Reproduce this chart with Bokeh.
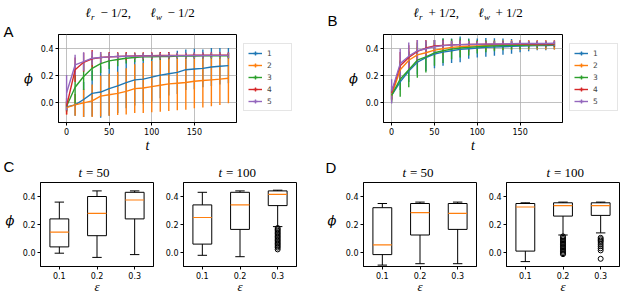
from bokeh.plotting import figure
from bokeh.models import (Range1d, FixedTicker, PrintfTickFormatter,
                          Legend, LegendItem)
from bokeh.layouts import row, column
from bokeh.embed import file_html
from bokeh.resources import INLINE
from bokeh.core.properties import value

# ---------------- data ----------------
t = [0, 10, 20, 30, 40, 50, 60, 70, 80, 90, 100, 110, 120, 130, 140, 150, 160, 170, 180, 190]
series_labels = ["1", "2", "3", "4", "5"]

# Panel A  (l_r - 1/2, l_w - 1/2): mean phi and error
a_mean_1 = [-0.035, -0.02, 0.02, 0.065, 0.075, 0.10, 0.12, 0.145, 0.165, 0.17, 0.185, 0.20, 0.21, 0.22, 0.24, 0.245, 0.25, 0.26, 0.265, 0.27]
a_mean_2 = [-0.04, -0.02, -0.005, 0.01, 0.045, 0.055, 0.065, 0.08, 0.10, 0.105, 0.115, 0.125, 0.135, 0.14, 0.145, 0.155, 0.16, 0.165, 0.17, 0.177]
a_mean_3 = [-0.03, 0.11, 0.19, 0.25, 0.285, 0.305, 0.315, 0.325, 0.33, 0.335, 0.335, 0.337, 0.338, 0.34, 0.34, 0.341, 0.342, 0.342, 0.343, 0.343]
a_mean_4 = [-0.03, 0.24, 0.295, 0.32, 0.33, 0.335, 0.338, 0.34, 0.342, 0.343, 0.344, 0.345, 0.345, 0.346, 0.346, 0.347, 0.347, 0.348, 0.348, 0.348]
a_mean_5 = [0.07, 0.275, 0.30, 0.325, 0.33, 0.335, 0.337, 0.339, 0.34, 0.341, 0.342, 0.342, 0.343, 0.344, 0.344, 0.345, 0.345, 0.346, 0.346, 0.346]
a_err_1 = [0.03, 0.08, 0.13, 0.17, 0.19, 0.20, 0.20, 0.19, 0.19, 0.18, 0.18, 0.17, 0.16, 0.16, 0.15, 0.15, 0.14, 0.14, 0.135, 0.13]
a_err_2 = [0.05, 0.08, 0.105, 0.12, 0.15, 0.155, 0.16, 0.17, 0.18, 0.185, 0.19, 0.195, 0.20, 0.20, 0.20, 0.20, 0.20, 0.195, 0.19, 0.185]
a_err_3 = [0.04, 0.12, 0.10, 0.09, 0.07, 0.06, 0.05, 0.04, 0.035, 0.03, 0.025, 0.025, 0.02, 0.02, 0.02, 0.02, 0.02, 0.02, 0.02, 0.02]
a_err_4 = [0.06, 0.09, 0.07, 0.065, 0.04, 0.035, 0.03, 0.03, 0.025, 0.025, 0.025, 0.025, 0.025, 0.02, 0.02, 0.02, 0.02, 0.02, 0.02, 0.02]
a_err_5 = [0.13, 0.075, 0.068, 0.05, 0.04, 0.03, 0.025, 0.02, 0.02, 0.02, 0.02, 0.02, 0.02, 0.02, 0.02, 0.02, 0.02, 0.02, 0.02, 0.02]

# Panel B  (l_r + 1/2, l_w + 1/2)
b_mean_1 = [0.05, 0.15, 0.23, 0.295, 0.33, 0.355, 0.37, 0.38, 0.39, 0.395, 0.40, 0.405, 0.408, 0.41, 0.412, 0.414, 0.416, 0.418, 0.419, 0.42]
b_mean_2 = [0.05, 0.24, 0.31, 0.35, 0.365, 0.385, 0.395, 0.405, 0.41, 0.413, 0.416, 0.418, 0.42, 0.421, 0.422, 0.423, 0.424, 0.424, 0.425, 0.425]
b_mean_3 = [0.05, 0.17, 0.24, 0.31, 0.335, 0.365, 0.38, 0.392, 0.40, 0.405, 0.41, 0.413, 0.416, 0.418, 0.42, 0.421, 0.422, 0.423, 0.424, 0.425]
b_mean_4 = [0.07, 0.27, 0.33, 0.375, 0.40, 0.415, 0.42, 0.423, 0.425, 0.426, 0.427, 0.428, 0.428, 0.429, 0.429, 0.43, 0.43, 0.43, 0.43, 0.43]
b_mean_5 = [0.08, 0.285, 0.34, 0.38, 0.395, 0.41, 0.418, 0.422, 0.425, 0.427, 0.428, 0.429, 0.43, 0.431, 0.432, 0.433, 0.433, 0.434, 0.434, 0.435]
b_err_1 = [0.03, 0.06, 0.08, 0.09, 0.10, 0.105, 0.10, 0.09, 0.095, 0.075, 0.07, 0.07, 0.065, 0.06, 0.055, 0.045, 0.04, 0.035, 0.035, 0.03]
b_err_2 = [0.04, 0.07, 0.07, 0.06, 0.05, 0.05, 0.045, 0.04, 0.04, 0.04, 0.035, 0.035, 0.035, 0.035, 0.035, 0.035, 0.035, 0.035, 0.035, 0.035]
b_err_3 = [0.05, 0.13, 0.13, 0.13, 0.115, 0.095, 0.09, 0.075, 0.07, 0.06, 0.05, 0.045, 0.04, 0.035, 0.03, 0.03, 0.025, 0.025, 0.02, 0.02]
b_err_4 = [0.05, 0.10, 0.09, 0.085, 0.06, 0.045, 0.04, 0.03, 0.03, 0.025, 0.025, 0.02, 0.02, 0.02, 0.02, 0.02, 0.02, 0.02, 0.02, 0.02]
b_err_5 = [0.09, 0.11, 0.10, 0.08, 0.06, 0.05, 0.04, 0.03, 0.03, 0.025, 0.02, 0.02, 0.02, 0.02, 0.02, 0.02, 0.02, 0.02, 0.02, 0.02]

# Box plots: epsilon categories
eps_labels = ["0.1", "0.2", "0.3"]

c50_lo = [-0.005, -0.035, -0.015]
c50_q1 = [0.04, 0.12, 0.24]
c50_med = [0.145, 0.28, 0.375]
c50_q3 = [0.24, 0.40, 0.43]
c50_hi = [0.36, 0.44, 0.44]
c50_out = [[], [], []]

c100_lo = [-0.02, -0.03, 0.185]
c100_q1 = [0.06, 0.165, 0.335]
c100_med = [0.25, 0.34, 0.415]
c100_q3 = [0.34, 0.43, 0.44]
c100_hi = [0.43, 0.44, 0.445]
c100_out = [[], [], [0.175, 0.165, 0.155, 0.145, 0.135, 0.125, 0.115, 0.105, 0.095, 0.085, 0.075, 0.065, 0.055, 0.045, 0.035, 0.022]]

d50_lo = [-0.09, -0.08, -0.08]
d50_q1 = [-0.015, 0.125, 0.165]
d50_med = [0.055, 0.285, 0.28]
d50_q3 = [0.32, 0.35, 0.35]
d50_hi = [0.35, 0.36, 0.36]
d50_out = [[], [], []]

d100_lo = [-0.065, 0.125, 0.14]
d100_q1 = [0.01, 0.26, 0.265]
d100_med = [0.325, 0.335, 0.335]
d100_q3 = [0.35, 0.355, 0.355]
d100_hi = [0.355, 0.36, 0.36]
d100_out = [[], [0.115, 0.105, 0.095, 0.085, 0.075, 0.065, 0.055, 0.045, 0.035, 0.025, 0.015, 0.005, -0.005, -0.012],
            [0.105, 0.095, 0.085, 0.075, 0.06, 0.045, 0.03, 0.015, -0.045]]

COLORS = ["#1f77b4", "#ff7f0e", "#2ca02c", "#d62728", "#9467bd"]
ORANGE = "#ff7f0e"
MATH = "Liberation Serif"
GREEK = "DejaVu Serif"
SANS = "DejaVu Sans"


def blank_fig(width, height, xr, yr):
    p = figure(width=width, height=height, x_range=xr, y_range=yr,
               output_backend="svg", toolbar_location=None, tools="",
               x_axis_location=None, y_axis_location=None)
    p.min_border = 0
    p.min_border_left = p.min_border_right = p.min_border_top = p.min_border_bottom = 0
    p.grid.visible = False
    p.outline_line_color = None
    p.background_fill_color = "white"
    p.border_fill_color = "white"
    return p


def text_strip(width, height, x0, y0):
    """Blank figure whose data coordinates equal page pixels (for headings)."""
    return blank_fig(width, height, Range1d(x0, x0 + width), Range1d(y0 + height, y0))


def put(p, x, y, txt, size, italic=False, font=MATH):
    # y is the top of the text box
    p.text(x=[x], y=[y], text=[txt], text_font=value(font),
           text_font_size=value(f"{size}px"),
           text_font_style=value("italic" if italic else "normal"),
           text_baseline="top", text_align="left", text_color="black")


def legend_fig(width, height, means):
    """Figure holding the outside legend of a time panel."""
    # series drawn far outside the visible range: only their legend keys show
    p = blank_fig(width, height, Range1d(-2000, -1000), Range1d(0, 1))
    items = []
    for m, c, lab in zip(means, COLORS, series_labels):
        ln = p.line(t, m, line_color=c, line_width=1.4)
        mk = p.scatter(t, m, marker="cross", size=8, line_color=c, line_width=1.4)
        items.append(LegendItem(label=lab, renderers=[ln, mk]))
    leg = Legend(items=items, location="top_left", orientation="vertical",
                 label_text_font=SANS, label_text_font_size="7.5px",
                 glyph_width=14, glyph_height=10, label_height=10,
                 label_standoff=5, padding=4, spacing=2, margin=6,
                 border_line_color="#cccccc", border_line_width=1,
                 background_fill_color="white", background_fill_alpha=1)
    p.add_layout(leg, "center")
    spacer = blank_fig(width, 5, Range1d(0, 1), Range1d(0, 1))
    return column(spacer, p)


def base_fig(width, height, left, right, top, bottom, xr, yr, grid):
    p = figure(width=width, height=height, x_range=xr, y_range=yr,
               output_backend="svg", toolbar_location=None, tools="")
    p.min_border_left = left
    p.min_border_right = right
    p.min_border_top = top
    p.min_border_bottom = bottom
    p.background_fill_color = "white"
    p.border_fill_color = "white"
    p.outline_line_color = "black"
    p.outline_line_width = 1
    p.outline_line_alpha = 1
    for ax in (p.xaxis[0], p.yaxis[0]):
        ax.axis_line_color = "black"
        ax.major_tick_line_color = "black"
        ax.major_tick_out = 3
        ax.major_tick_in = 0
        ax.minor_tick_line_color = None
        ax.major_label_text_font = SANS
        ax.major_label_text_font_size = "8px"
        ax.major_label_text_color = "black"
        ax.major_label_standoff = 2
        ax.axis_label_text_color = "black"
        ax.axis_label_text_font_style = "italic"
    if grid:
        p.grid.grid_line_color = "#b0b0b0"
        p.grid.grid_line_width = 0.8
    else:
        p.grid.visible = False
    p.yaxis.ticker = FixedTicker(ticks=[0.0, 0.2, 0.4])
    p.yaxis.formatter = PrintfTickFormatter(format="%.1f")
    return p


def time_panel(width, height, left, right, top, bottom, means, errs):
    p = base_fig(width, height, left, right, top, bottom,
                 Range1d(-9.5, 199.5), Range1d(-0.15, 0.5), True)
    p.xaxis.ticker = FixedTicker(ticks=[0, 50, 100, 150])
    p.xaxis.axis_label = "t"
    p.xaxis.axis_label_text_font = MATH
    p.xaxis.axis_label_text_font_size = "14px"
    p.xaxis.axis_label_standoff = 0
    p.yaxis.axis_label = "ϕ"
    p.yaxis.axis_label_text_font = GREEK
    p.yaxis.axis_label_text_font_size = "13px"
    p.yaxis.axis_label_orientation = "horizontal"
    p.yaxis.axis_label_standoff = 5
    # error bars first (under all lines)
    for m, e, c in zip(means, errs, COLORS):
        lo = [mi - ei for mi, ei in zip(m, e)]
        hi = [mi + ei for mi, ei in zip(m, e)]
        p.segment(x0=t, y0=lo, x1=t, y1=hi, line_color=c, line_width=1.4)
    for m, c in zip(means, COLORS):
        p.line(t, m, line_color=c, line_width=1.4, line_join="round")
    return p


def box_panel(width, height, left, right, top, bottom, lo, q1, med, q3, hi, out):
    p = base_fig(width, height, left, right, top, bottom,
                 Range1d(0.5, 3.5), Range1d(-0.1, 0.5), False)
    pos = [i + 1 for i in range(len(eps_labels))]
    p.xaxis.ticker = FixedTicker(ticks=pos)
    p.xaxis.major_label_overrides = {k: v for k, v in zip(pos, eps_labels)}
    p.xaxis.axis_label = "ε"
    p.xaxis.axis_label_text_font = MATH
    p.xaxis.axis_label_text_font_size = "13px"
    p.xaxis.axis_label_standoff = -3
    half, cap = 0.25, 0.125
    p.segment(x0=pos, y0=lo, x1=pos, y1=q1, line_color="black", line_width=1)
    p.segment(x0=pos, y0=q3, x1=pos, y1=hi, line_color="black", line_width=1)
    p.segment(x0=[x - cap for x in pos], y0=lo, x1=[x + cap for x in pos], y1=lo,
              line_color="black", line_width=1)
    p.segment(x0=[x - cap for x in pos], y0=hi, x1=[x + cap for x in pos], y1=hi,
              line_color="black", line_width=1)
    p.vbar(x=pos, width=2 * half, bottom=q1, top=q3, fill_color=None,
           line_color="black", line_width=1)
    p.segment(x0=[x - half for x in pos], y0=med, x1=[x + half for x in pos], y1=med,
              line_color=ORANGE, line_width=1.2)
    ox, oy = [], []
    for x, vals in zip(pos, out):
        ox += [x] * len(vals)
        oy += vals
    if ox:
        p.scatter(ox, oy, marker="circle", size=5, fill_color=None,
                  line_color="black", line_width=1)
    return p


# ---------------- top row ----------------
stripA = text_strip(20, 155, 0, 0)
put(stripA, 3, 22.5, "A", 15, font="Liberation Sans")

hdr_top = text_strip(602, 32, 20, 0)
for x0, sign in ((85, "−"), (413, "+")):
    put(hdr_top, x0, 4.5, "ℓ", 13, True)
    put(hdr_top, x0 + 5.5, 11, "r", 9, True)
    put(hdr_top, x0 + 15, 4.5, f"{sign} 1/2,", 13)
    put(hdr_top, x0 + 65, 4.5, "ℓ", 13, True)
    put(hdr_top, x0 + 70.5, 11, "w", 9, True)
    put(hdr_top, x0 + 82, 4.5, f"{sign} 1/2", 13)
put(hdr_top, 327, 11.5, "B", 15, font="Liberation Sans")

A_means = [a_mean_1, a_mean_2, a_mean_3, a_mean_4, a_mean_5]
B_means = [b_mean_1, b_mean_2, b_mean_3, b_mean_4, b_mean_5]
pA = time_panel(217, 123, 34, 1, 1, 32, A_means,
                [a_err_1, a_err_2, a_err_3, a_err_4, a_err_5])
legA = legend_fig(63, 118, A_means)
pB = time_panel(263, 123, 83, 1, 2, 31, B_means,
                [b_err_1, b_err_2, b_err_3, b_err_4, b_err_5])
legB = legend_fig(59, 118, B_means)

top = row(stripA, column(hdr_top, row(pA, legA, pB, legB)))

# ---------------- bottom row ----------------
hdr_bot = text_strip(622, 26, 0, 155)
put(hdr_bot, 3, 157.5, "C", 15, font="Liberation Sans")
put(hdr_bot, 325, 158.5, "D", 15, font="Liberation Sans")
for x0, tv in ((78, "50"), (218, "100"), (402, "50"), (546, "100")):
    put(hdr_bot, x0, 164.5, "t", 13, True)
    put(hdr_bot, x0 + 7.5, 164.5, f"= {tv}", 13)

# y labels of the bottom panels
stripC = text_strip(18, 115, 0, 181)
put(stripC, 5, 223, "ϕ", 13, True, GREEK)
stripD = text_strip(40, 115, 300, 181)
put(stripD, 327, 223, "ϕ", 13, True, GREEK)

pCL = box_panel(142, 115, 22, 7, 1, 30, c50_lo, c50_q1, c50_med, c50_q3, c50_hi, c50_out)
pCR = box_panel(140, 115, 23, 4, 1, 30, c100_lo, c100_q1, c100_med, c100_q3, c100_hi, c100_out)
pDL = box_panel(140, 115, 23, 4, 1, 30, d50_lo, d50_q1, d50_med, d50_q3, d50_hi, d50_out)
pDR = box_panel(142, 115, 26, 3, 1, 30, d100_lo, d100_q1, d100_med, d100_q3, d100_hi, d100_out)

bottom = column(hdr_bot, row(stripC, pCL, pCR, stripD, pDL, pDR))

layout = column(top, bottom)
open("out.html", "w").write(file_html(layout, INLINE, "phi vs t"))
